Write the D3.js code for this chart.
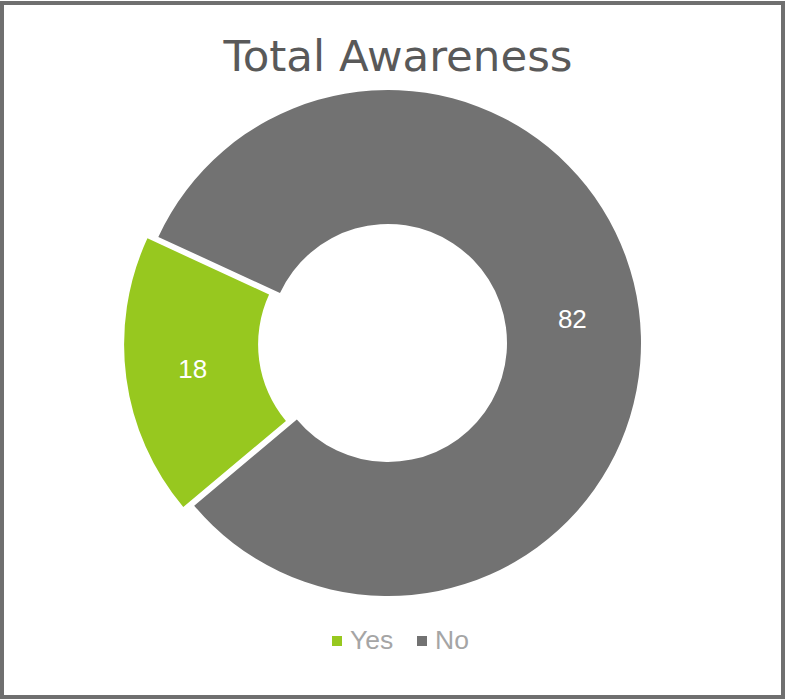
<!DOCTYPE html>
<html>
<head>
<meta charset="utf-8">
<script src="https://cdn.jsdelivr.net/npm/d3@7/dist/d3.min.js"></script>
<style>
  html, body { margin: 0; padding: 0; background: #fff; }
  svg { display: block; }
</style>
</head>
<body>
<svg id="chart" width="785" height="699"></svg>
<script>
// Survey result: share of respondents aware of the brand
const title = "Total Awareness";
const categories = ["Yes", "No"];
const values = [18, 82];
const colors = ["#97c81f", "#727272"];
const exploded = [true, false];

const W = 785, H = 699;
const svg = d3.select("#chart");

// Outer frame
svg.append("rect")
  .attr("x", 2).attr("y", 3)
  .attr("width", W - 4).attr("height", H - 5)
  .attr("fill", "#fff")
  .attr("stroke", "#6f6f6f")
  .attr("stroke-width", 4);

// Title
svg.append("text")
  .attr("x", 398).attr("y", 71)
  .attr("text-anchor", "middle")
  .attr("font-family", "'DejaVu Sans', Verdana, sans-serif")
  .attr("font-size", 43.5)
  .attr("fill", "#595959")
  .text(title);

// Donut geometry
const cx = 388, cy = 343;
const rOuter = 253, rInner = 119;
const explodeDist = 11;
const startDeg = 230;

const pie = d3.pie()
  .sort(null)
  .value(d => d.value)
  .startAngle(startDeg * Math.PI / 180)
  .endAngle(startDeg * Math.PI / 180 + 2 * Math.PI);

const rows = categories.map((c, i) => ({ name: c, value: values[i], color: colors[i], explode: exploded[i] }));
const arcs = pie(rows);

const arc = d3.arc().innerRadius(rInner).outerRadius(rOuter);
const labelArc = d3.arc().innerRadius((rInner + rOuter) / 2).outerRadius((rInner + rOuter) / 2);

function offset(d) {
  if (!d.data.explode) return [0, 0];
  const mid = (d.startAngle + d.endAngle) / 2;
  return [Math.sin(mid) * explodeDist, -Math.cos(mid) * explodeDist];
}

const g = svg.append("g").attr("transform", `translate(${cx},${cy})`);

g.selectAll("path.slice")
  .data(arcs)
  .join("path")
  .attr("class", "slice")
  .attr("d", arc)
  .attr("fill", d => d.data.color)
  .attr("transform", d => { const o = offset(d); return `translate(${o[0]},${o[1]})`; });

g.selectAll("text.value")
  .data(arcs)
  .join("text")
  .attr("class", "value")
  .attr("x", d => labelArc.centroid(d)[0] + offset(d)[0])
  .attr("y", d => labelArc.centroid(d)[1] + offset(d)[1])
  .attr("dy", "0.36em")
  .attr("text-anchor", "middle")
  .attr("font-family", "'Liberation Sans', Arial, sans-serif")
  .attr("font-size", 26)
  .attr("fill", "#ffffff")
  .text(d => d.data.value);

// Legend
const legend = svg.append("g").attr("transform", "translate(332,649)");
const legendX = [0, 85];
const items = legend.selectAll("g.item")
  .data(rows)
  .join("g")
  .attr("class", "item")
  .attr("transform", (d, i) => `translate(${legendX[i]},0)`);

items.append("rect")
  .attr("x", 0).attr("y", -13)
  .attr("width", 10).attr("height", 10)
  .attr("fill", d => d.color);

items.append("text")
  .attr("x", 18).attr("y", 0)
  .attr("font-family", "'Liberation Sans', Arial, sans-serif")
  .attr("font-size", 26.5)
  .attr("fill", "#a5a5a5")
  .text(d => d.name);
</script>
</body>
</html>
